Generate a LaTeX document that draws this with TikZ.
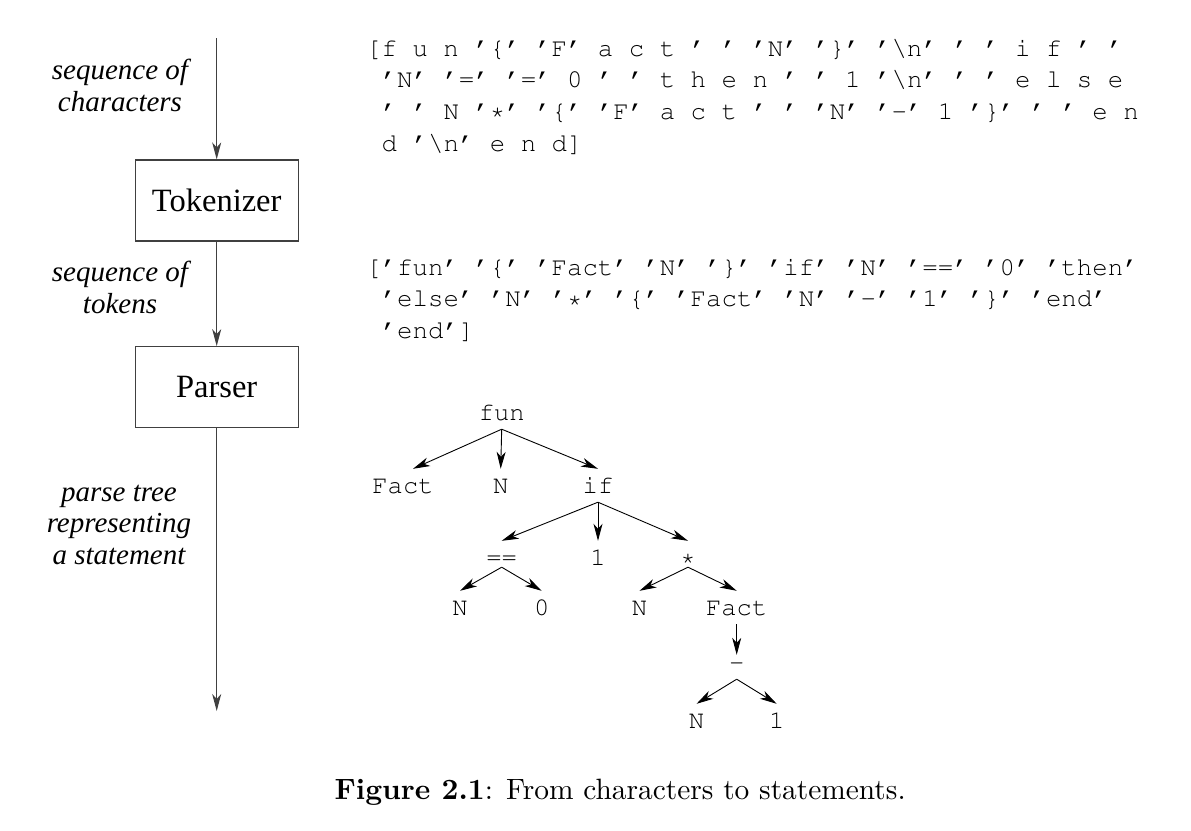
\documentclass[tikz,border=0pt]{standalone}
\usepackage[T1]{fontenc}
\usepackage{fontspec}
\usepackage{tikz}
\usetikzlibrary{arrows.meta}
\newfontfamily\labelfont{Liberation Serif}
\newcommand\codefont{\fontencoding{T1}\fontfamily{pcr}\fontseries{m}\fontshape{n}}
\tikzset{
  stage/.style={draw=black!75, line width=1.2pt, minimum width=163pt, minimum height=81pt, inner sep=0pt, font=\labelfont\fontsize{32.5}{36}\selectfont},
  flowlabel/.style={align=center, inner sep=0pt, font=\labelfont\itshape\fontsize{29}{31.7}\selectfont},
  codeline/.style={anchor=base west, inner sep=0pt, font=\codefont\fontsize{25.75}{30}\selectfont},
  treenode/.style={anchor=base, inner xsep=2pt, inner ysep=9pt, text height=15pt, text depth=0pt, font=\codefont\fontsize{25.5}{30}\selectfont},
  opnode/.style={treenode, inner ysep=2pt, text height=22pt},
}
\begin{document}
\begin{tikzpicture}[x=1pt,y=-1pt,>={Stealth[length=17pt,width=9pt,inset=5pt]}]
\useasboundingbox (0,0) rectangle (1191,830);
% pipeline on the left
\coordinate (in) at (216.7,38);
\coordinate (out) at (216.7,711);
\node[stage] (tok) at (216.7,200.5) {Tokenizer};
\node[stage] (par) at (216.7,387.2) {Parser};
\draw[->,draw=black!75,line width=1.1pt] (in) -- (tok);
\draw[->,draw=black!75,line width=1.1pt] (tok) -- (par);
\draw[->,draw=black!75,line width=1.1pt] (par) -- (out);
\node[flowlabel] (lblchars) at (120,85.2) {sequence of\\characters};
\node[flowlabel] (lbltoks) at (120,287.6) {sequence of\\tokens};
\node[flowlabel] (lbltree) at (119,524.7) {parse tree\\representing\\a statement};
% sequence of characters
\node[codeline] (chr1) at (366,56) {[f u n '\{' 'F' a c t ' ' 'N' '\}' '\textbackslash n' ' ' i f ' '};
\node[codeline] (chr2) at (381.5,87.5) {'N' '=' '=' 0 ' ' t h e n ' ' 1 '\textbackslash n' ' ' e l s e};
\node[codeline] (chr3) at (381.5,119.4) {' ' N '*' '\{' 'F' a c t ' ' 'N' '-' 1 '\}' ' ' e n};
\node[codeline] (chr4) at (381.5,151.5) {d '\textbackslash n' e n d]};
% sequence of tokens
\node[codeline] (tok1) at (366,275) {['fun' '\{' 'Fact' 'N' '\}' 'if' 'N' '==' '0' 'then'};
\node[codeline] (tok2) at (381.5,306.5) {'else' 'N' '*' '\{' 'Fact' 'N' '-' '1' '\}' 'end'};
\node[codeline] (tok3) at (381.5,338) {'end']};
% parse tree
\node[treenode] (fun) at (501.7,420) {fun};
\node[treenode] (fact1) at (403,493) {Fact};
\node[treenode] (n1) at (500.7,493) {N};
\node[treenode] (if) at (598,493) {if};
\node[opnode] (eq) at (501.7,565) {==};
\node[treenode] (one1) at (598,565) {1};
\node[opnode] (mul) at (688,565) {*};
\node[treenode] (n2) at (460,615) {N};
\node[treenode] (zero) at (541.7,615) {0};
\node[treenode] (n3) at (639.5,615) {N};
\node[treenode] (fact2) at (736.7,615) {Fact};
\node[treenode,text height=6pt] (minus) at (736.7,670) {-};
\node[treenode] (n4) at (696.5,728) {N};
\node[treenode] (one2) at (776.7,728) {1};
\draw[->,line width=0.9pt] (fun.south) -- ([xshift=10pt]fact1.north);
\draw[->,line width=0.9pt] (fun.south) -- (n1.north);
\draw[->,line width=0.9pt] (fun.south) -- (if.north);
\draw[->,line width=0.9pt] (if.south) -- (eq.north);
\draw[->,line width=0.9pt] (if.south) -- (one1.north);
\draw[->,line width=0.9pt] (if.south) -- (mul.north);
\draw[->,line width=0.9pt] (eq.south) -- (n2.north);
\draw[->,line width=0.9pt] (eq.south) -- (zero.north);
\draw[->,line width=0.9pt] (mul.south) -- (n3.north);
\draw[->,line width=0.9pt] (mul.south) -- (fact2.north);
\draw[->,line width=0.9pt] (fact2.south) -- (minus.north);
\draw[->,line width=0.9pt] (minus.south) -- (n4.north);
\draw[->,line width=0.9pt] (minus.south) -- (one2.north);
% caption
\node[anchor=base west,inner sep=0pt,scale=2.94,font=\fontsize{10}{12}\selectfont] (caption) at (334,799.3) {\textbf{Figure 2.1}: From characters to statements.};
\end{tikzpicture}
\end{document}
